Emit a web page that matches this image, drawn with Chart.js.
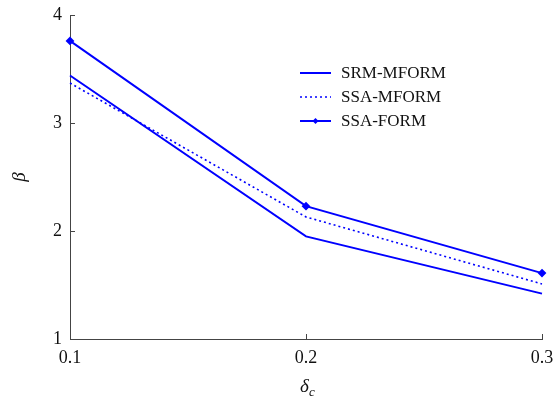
<!DOCTYPE html>
<html>
<head>
<meta charset="utf-8">
<script src="https://cdn.jsdelivr.net/npm/chart.js@4.4.0/dist/chart.umd.min.js"></script>
<style>
  html, body { margin: 0; padding: 0; background: #fff; }
  #wrap { width: 556px; height: 406px; }
</style>
</head>
<body>
<div id="wrap"><canvas id="myChart" width="556" height="406"></canvas></div>
<script>
'use strict';

// DATA
let deltaC = [0.1, 0.2, 0.3];
let srmMform = [3.44, 1.95, 1.42];
let ssaMform = [3.37, 2.13, 1.51];
let ssaForm = [3.76, 2.23, 1.61];

let xTickValues = [0.1, 0.2, 0.3];
let xTickLabels = ['0.1', '0.2', '0.3'];
let yTickValues = [1, 2, 3, 4];
let yTickLabels = ['1', '2', '3', '4'];

let seriesNames = ['SRM-MFORM', 'SSA-MFORM', 'SSA-FORM'];

// STYLE
const BLUE = '#0000ff';
const AXIS = '#444444';
const FONT = 'Liberation Serif, Times New Roman, serif';

function toPoints(values) {
  let pts = [];
  for (let i = 0; i < deltaC.length; i++) {
    pts.push({ x: deltaC[i], y: values[i] });
  }
  return pts;
}

// matlab-ish inside ticks + legend + subscript x title
const decorPlugin = {
  id: 'decor',
  afterDraw(chart) {
    const ctx = chart.ctx;
    const xs = chart.scales.x;
    const ys = chart.scales.y;
    const area = chart.chartArea;
    ctx.save();
    ctx.strokeStyle = AXIS;
    ctx.lineWidth = 1;
    // ticks pointing inward
    xTickValues.forEach(v => {
      let px = Math.round(xs.getPixelForValue(v)) + 0.5;
      ctx.beginPath();
      ctx.moveTo(px, area.bottom);
      ctx.lineTo(px, area.bottom - 5);
      ctx.stroke();
    });
    yTickValues.forEach(v => {
      let py = Math.round(ys.getPixelForValue(v)) + 0.5;
      ctx.beginPath();
      ctx.moveTo(area.left, py);
      ctx.lineTo(area.left + 5, py);
      ctx.stroke();
    });

    // legend
    let lx = 300;
    let ly = 73;
    ctx.font = '17px ' + FONT;
    ctx.textBaseline = 'middle';
    ctx.fillStyle = '#111';
    chart.data.datasets.forEach((ds, i) => {
      let y = ly + i * 24;
      ctx.strokeStyle = ds.borderColor;
      ctx.lineWidth = ds.borderWidth;
      ctx.setLineDash(ds.borderDash || []);
      ctx.beginPath();
      ctx.moveTo(lx, y);
      ctx.lineTo(lx + 31, y);
      ctx.stroke();
      ctx.setLineDash([]);
      if (ds.pointRadius > 0) {
        ctx.fillStyle = ds.borderColor;
        ctx.beginPath();
        let r = ds.pointRadius;
        let cx = lx + 15.5;
        ctx.moveTo(cx, y - r);
        ctx.lineTo(cx + r, y);
        ctx.lineTo(cx, y + r);
        ctx.lineTo(cx - r, y);
        ctx.closePath();
        ctx.fill();
      }
      ctx.fillStyle = '#111';
      ctx.fillText(ds.label, lx + 41, y + 1);
    });

    // x title: delta with subscript c
    let cx = (area.left + area.right) / 2;
    ctx.textBaseline = 'alphabetic';
    ctx.font = 'italic 19px ' + FONT;
    ctx.fillText('δ', cx - 6, 392);
    ctx.font = 'italic 13px ' + FONT;
    ctx.fillText('c', cx + 3, 396);
    ctx.restore();
  }
};

const data = {
  datasets: [{
    label: seriesNames[0],
    data: toPoints(srmMform),
    borderColor: BLUE,
    backgroundColor: BLUE,
    borderWidth: 2,
    pointRadius: 0
  },
  {
    label: seriesNames[1],
    data: toPoints(ssaMform),
    borderColor: BLUE,
    backgroundColor: BLUE,
    borderWidth: 1.6,
    borderDash: [2, 3],
    pointRadius: 0
  },
  {
    label: seriesNames[2],
    data: toPoints(ssaForm),
    borderColor: BLUE,
    backgroundColor: BLUE,
    borderWidth: 2,
    pointRadius: 3,
    pointStyle: 'rectRot'
  }]
};

const config = {
  type: 'line',
  data: data,
  plugins: [decorPlugin],
  options: {
    responsive: false,
    animation: false,
    clip: false,
    tension: 0,
    layout: {
      padding: { left: 0, right: 14, top: 15, bottom: 0 }
    },
    plugins: {
      legend: { display: false },
      tooltip: { enabled: false }
    },
    scales: {
      x: {
        type: 'linear',
        min: 0.1,
        max: 0.3,
        afterBuildTicks: (scale) => {
          scale.ticks = xTickValues.map(v => ({ value: v }));
        },
        afterFit: (scale) => {
          scale.height = 67;
          scale.paddingLeft = 0;
          scale.paddingRight = 0;
        },
        ticks: {
          callback: (v) => xTickLabels[xTickValues.indexOf(v)],
          padding: 8,
          maxRotation: 0,
          color: '#111',
          font: { family: FONT, size: 18 }
        },
        grid: { drawOnChartArea: false, drawTicks: false },
        border: { display: true, color: AXIS, width: 1 }
      },
      y: {
        type: 'linear',
        min: 1,
        max: 4,
        afterBuildTicks: (scale) => {
          scale.ticks = yTickValues.map(v => ({ value: v }));
        },
        afterFit: (scale) => {
          scale.width = 70;
          scale.paddingTop = 0;
          scale.paddingBottom = 0;
        },
        title: {
          display: true,
          text: 'β',
          color: '#111',
          font: { family: FONT, size: 19, style: 'italic' },
          padding: { top: 9, bottom: 0 }
        },
        ticks: {
          callback: (v) => yTickLabels[yTickValues.indexOf(v)],
          padding: 8,
          color: '#111',
          font: { family: FONT, size: 18 }
        },
        grid: { drawOnChartArea: false, drawTicks: false },
        border: { display: true, color: AXIS, width: 1 }
      }
    }
  }
};

let canvasChart = document.getElementById('myChart');
const myChart = new Chart(canvasChart, config);
</script>
</body>
</html>
